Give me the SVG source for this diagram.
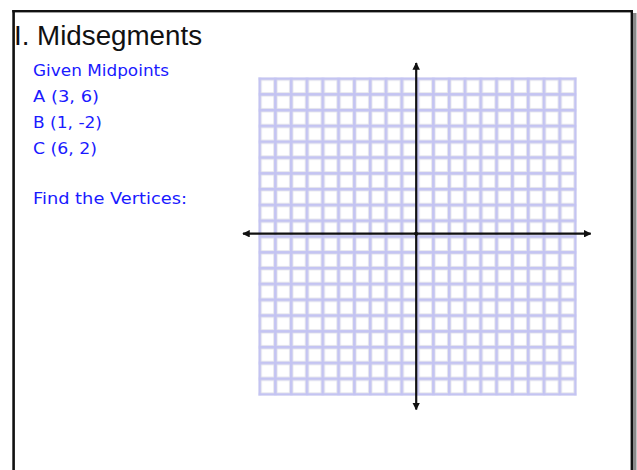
<svg xmlns="http://www.w3.org/2000/svg" width="637" height="470" viewBox="0 0 637 470">
<style>
.title{font-family:"Liberation Sans",Arial,sans-serif;font-size:27px;fill:#111}
.note{font-family:"DejaVu Sans","Noto Sans",sans-serif;font-size:15.5px;fill:#1a1aff}
.axis{stroke:#111;stroke-width:2.2;fill:none}
</style>
<defs>
<pattern id="cell" x="258.3" y="77.3" width="15.8" height="15.8" patternUnits="userSpaceOnUse">
<rect x="0" y="0" width="15.8" height="15.8" fill="#c4c4f2"/>
<rect x="2.6" y="2.6" width="13.2" height="13.2" fill="#e2e2ea"/>
<rect x="3.4" y="3.4" width="11.6" height="11.6" fill="#ffffff"/>
</pattern>
<marker id="arr" viewBox="0 0 10 10" refX="9" refY="5" markerWidth="3.4" markerHeight="3.4" orient="auto" markerUnits="strokeWidth">
<path d="M0,0 L10,5 L0,10 Z" fill="#111"/>
</marker>
</defs>
<rect x="0" y="0" width="637" height="470" fill="#ffffff"/>
<g id="frame">
<rect x="633" y="13" width="3.5" height="457" fill="#8a8a8a"/>
<rect x="12.3" y="10" width="2.6" height="460" fill="#111"/>
<rect x="12.3" y="10" width="620.5" height="2.4" fill="#111"/>
<rect x="630.6" y="10" width="2.4" height="460" fill="#111"/>
</g>
<g id="title"><text class="title" x="14" y="45" textLength="188" lengthAdjust="spacingAndGlyphs">I. Midsegments</text></g>
<g id="given">
<text class="note" x="33" y="76" textLength="136" lengthAdjust="spacingAndGlyphs">Given Midpoints</text>
<text class="note" x="33" y="102" textLength="66" lengthAdjust="spacingAndGlyphs">A (3, 6)</text>
<text class="note" x="33" y="128" textLength="69" lengthAdjust="spacingAndGlyphs">B (1, -2)</text>
<text class="note" x="33" y="154" textLength="64" lengthAdjust="spacingAndGlyphs">C (6, 2)</text>
<text class="note" x="33" y="204" textLength="154" lengthAdjust="spacingAndGlyphs">Find the Vertices:</text>
</g>
<g id="grid">
<rect x="258.3" y="77.3" width="318.4" height="318.4" fill="url(#cell)"/>
</g>
<g id="axes">
<line class="axis" x1="416.2" y1="236" x2="416.2" y2="63" marker-end="url(#arr)"/>
<line class="axis" x1="416.2" y1="232" x2="416.2" y2="409.5" marker-end="url(#arr)"/>
<line class="axis" x1="418" y1="233.7" x2="243" y2="233.7" marker-end="url(#arr)"/>
<line class="axis" x1="414" y1="233.7" x2="590.7" y2="233.7" marker-end="url(#arr)"/>
</g>
</svg>
